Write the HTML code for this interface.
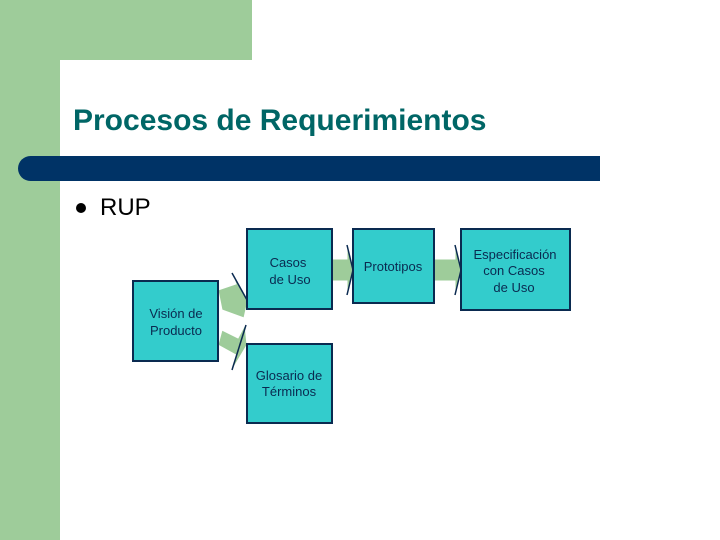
<html><body style="margin:0;width:720px;height:540px;position:relative;overflow:hidden;background:#fff;font-family:'Liberation Sans',sans-serif">
<div style="position:absolute;left:0;top:0;width:252px;height:60px;background:#9ecc9a"></div>
<div style="position:absolute;left:0;top:0;width:60px;height:540px;background:#9ecc9a"></div>
<div style="position:absolute;left:60px;top:60px;width:60px;height:60px;background:#fff;border-top-left-radius:28px"></div>
<div style="position:absolute;left:73px;top:104px;font-size:30px;font-weight:bold;color:#006666;white-space:nowrap">Procesos de Requerimientos</div>
<div style="position:absolute;left:18px;top:156px;width:582px;height:25px;background:#003366;border-radius:13px 0 0 13px"></div>
<div style="position:absolute;left:76px;top:203px;width:10px;height:10px;border-radius:50%;background:#000"></div>
<div style="position:absolute;left:100px;top:194px;font-size:24px;color:#000">RUP</div>
<svg width="720" height="540" style="position:absolute;left:0;top:0">
<g fill="#9ecc9a" stroke="#fff" stroke-width="1">
<polygon points="218,290 236,284 232,273 248,300 244,318 222,310"/>
<polygon points="218,345 222,330 238,338 245,325 247,345 232,370 236,355"/>
<polygon points="332,259 347,259 347,245 353,270 347,295 347,281 332,281"/>
<polygon points="434,259 455,259 455,245 461,270 455,295 455,281 434,281"/>
</g>
<g fill="none" stroke="#0a2a50" stroke-width="1.5">
<polyline points="347,245 353,270 347,295"/>
<polyline points="455,245 461,270 455,295"/>
<polyline points="232,273 247,300"/>
<polyline points="246,325 232,370"/>
</g>
<g fill="#33cccc" stroke="#0a2a50" stroke-width="2">
<rect x="133" y="281" width="85" height="80"/>
<rect x="247" y="229" width="85" height="80"/>
<rect x="353" y="229" width="81" height="74"/>
<rect x="461" y="229" width="109" height="81"/>
<rect x="247" y="344" width="85" height="79"/>
</g>
<g font-size="13" fill="#0a2a50" text-anchor="middle" font-family="Liberation Sans,sans-serif">
<text x="176" y="318">Visión de</text><text x="176" y="335">Producto</text>
<text x="288" y="267">Casos</text><text x="290" y="284">de Uso</text>
<text x="393" y="271">Prototipos</text>
<text x="515" y="259">Especificación</text><text x="514" y="275">con Casos</text><text x="514" y="292">de Uso</text>
<text x="289" y="380">Glosario de</text><text x="289" y="396">Términos</text>
</g>
</svg>
</body></html>
